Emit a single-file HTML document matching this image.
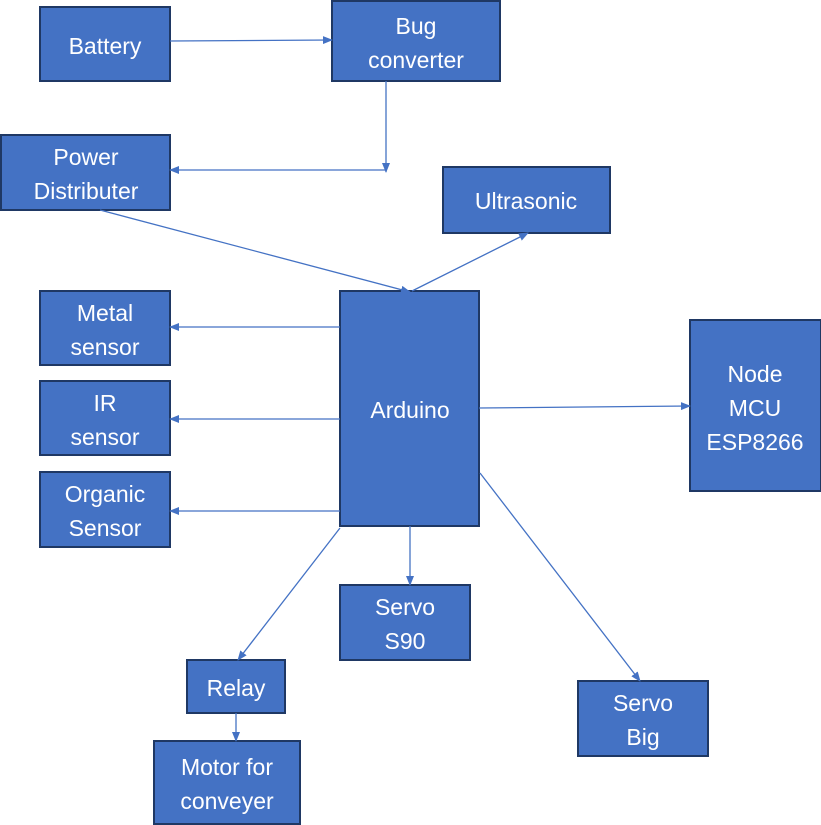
<!DOCTYPE html>
<html><head><meta charset="utf-8"><style>
html,body{margin:0;padding:0;background:#fff;width:821px;height:825px;overflow:hidden}
svg text{font-family:"Liberation Sans",sans-serif;font-size:23px;fill:#fff;text-anchor:middle}
</style></head><body>
<svg width="821" height="825" xmlns="http://www.w3.org/2000/svg">
<defs><marker id="a" markerWidth="10" markerHeight="8" refX="9" refY="4" orient="auto" markerUnits="userSpaceOnUse"><path d="M0,0 L10,4 L0,8 z" fill="#4472C4"/></marker></defs>
<g fill="#4472C4" stroke="#1F3864" stroke-width="2">
<rect x="40" y="7" width="130" height="74"/>
<rect x="332" y="1" width="168" height="80"/>
<rect x="1" y="135" width="169" height="75"/>
<rect x="443" y="167" width="167" height="66"/>
<rect x="40" y="291" width="130" height="74"/>
<rect x="40" y="381" width="130" height="74"/>
<rect x="40" y="472" width="130" height="75"/>
<rect x="340" y="291" width="139" height="235"/>
<rect x="690" y="320" width="131" height="171"/>
<rect x="340" y="585" width="130" height="75"/>
<rect x="187" y="660" width="98" height="53"/>
<rect x="154" y="741" width="146" height="83"/>
<rect x="578" y="681" width="130" height="75"/>
</g>
<g stroke="#4472C4" stroke-width="1.3" fill="none" marker-end="url(#a)">
<line x1="170" y1="41" x2="332" y2="40"/>
<line x1="386" y1="81" x2="386" y2="172"/>
<line x1="386" y1="170" x2="170" y2="170"/>
<line x1="100" y1="210" x2="410" y2="292"/>
<line x1="412" y1="291" x2="528" y2="233"/>
<line x1="340" y1="327" x2="170" y2="327"/>
<line x1="340" y1="419" x2="170" y2="419"/>
<line x1="340" y1="511" x2="170" y2="511"/>
<line x1="479" y1="408" x2="690" y2="406"/>
<line x1="410" y1="526" x2="410" y2="585"/>
<line x1="340" y1="528" x2="238" y2="660"/>
<line x1="480" y1="473" x2="640" y2="681"/>
<line x1="236" y1="713" x2="236" y2="741"/>
</g>
<text x="105" y="54">Battery</text>
<text x="416" y="34">Bug</text><text x="416" y="68">converter</text>
<text x="86" y="165">Power</text><text x="86" y="199">Distributer</text>
<text x="526" y="209">Ultrasonic</text>
<text x="105" y="321">Metal</text><text x="105" y="355">sensor</text>
<text x="105" y="411">IR</text><text x="105" y="445">sensor</text>
<text x="105" y="502">Organic</text><text x="105" y="536">Sensor</text>
<text x="410" y="418">Arduino</text>
<text x="755" y="382">Node</text><text x="755" y="416">MCU</text><text x="755" y="450">ESP8266</text>
<text x="405" y="615">Servo</text><text x="405" y="649">S90</text>
<text x="236" y="696">Relay</text>
<text x="227" y="775">Motor for</text><text x="227" y="809">conveyer</text>
<text x="643" y="711">Servo</text><text x="643" y="745">Big</text>
</svg>
</body></html>
